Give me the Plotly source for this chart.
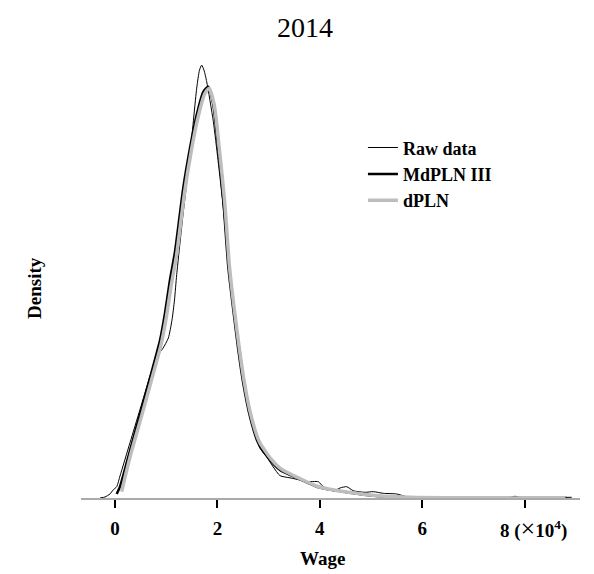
import plotly.graph_objects as go

# ---- data (wage in units of 1e4, density) ----
raw_x = [-0.293, -0.195, -0.098, -0.039, 0.033, 0.098, 0.293, 0.488, 0.684, 0.814, 0.9375, 1.041, 1.113,
         1.162, 1.205, 1.328, 1.465, 1.596, 1.650, 1.693, 1.738, 1.791, 1.920, 2.012, 2.115, 2.246, 2.377,
         2.506, 2.637, 2.734, 2.832, 2.963, 3.092, 3.223, 3.418, 3.613, 3.744, 3.971, 4.068, 4.264, 4.395,
         4.525, 4.654, 4.883, 5.045, 5.240, 5.502, 5.697, 5.957, 6.738, 7.715, 7.813, 7.910, 8.920]
raw_y = [0.0, 0.0014, 0.0056, 0.011, 0.0157, 0.0306, 0.0768, 0.1228, 0.169, 0.196, 0.208, 0.222, 0.247,
         0.275, 0.310, 0.393, 0.476, 0.569, 0.594, 0.601, 0.594, 0.578, 0.523, 0.469, 0.403, 0.303, 0.240,
         0.175, 0.119, 0.090, 0.069, 0.057, 0.043, 0.031, 0.028, 0.025, 0.0226, 0.0226, 0.0157, 0.0097, 0.0139,
         0.0157, 0.0101, 0.0079, 0.0088, 0.0065, 0.0056, 0.0018, 0.001, 0.0007, 0.0007, 0.0024, 0.0007, 0.001]

mdpln_x = [0.033, 0.098, 0.293, 0.488, 0.684, 0.879, 0.977, 1.074, 1.172, 1.334, 1.465, 1.596, 1.725, 1.822,
           1.920, 2.018, 2.115, 2.213, 2.311, 2.408, 2.506, 2.637, 2.799, 3.027, 3.223, 3.613, 3.939, 4.264,
           4.590, 4.916, 5.371, 5.893, 6.934, 8.822]
mdpln_y = [0.0056, 0.0157, 0.066, 0.116, 0.167, 0.219, 0.257, 0.303, 0.342, 0.431, 0.486, 0.532, 0.564, 0.571,
           0.546, 0.483, 0.414, 0.321, 0.261, 0.206, 0.159, 0.113, 0.076, 0.053, 0.039, 0.026, 0.0157, 0.011,
           0.0074, 0.0042, 0.0018, 0.0004, 0.0001, 0.0]

dpln_x = [0.13, 0.20, 0.32, 0.52, 0.71, 0.90, 1.00, 1.10, 1.20, 1.36, 1.49, 1.62, 1.75, 1.84, 1.94, 2.04,
          2.14, 2.235, 2.33, 2.43, 2.525, 2.655, 2.82, 3.05, 3.25, 3.64, 3.96, 4.28, 4.60, 4.93, 5.38, 5.90,
          6.90, 8.80]
dpln_y = [0.0088, 0.030, 0.064, 0.114, 0.163, 0.213, 0.250, 0.296, 0.336, 0.425, 0.482, 0.528, 0.561, 0.569,
          0.545, 0.483, 0.413, 0.322, 0.262, 0.207, 0.161, 0.115, 0.078, 0.054, 0.040, 0.026, 0.016, 0.011,
          0.0076, 0.0045, 0.0020, 0.0006, 0.0002, 0.0]

tick_vals = [0, 2, 4, 6, 8]
tick_text = ["0", "2", "4", "6", ""]
last_tick_label = "8 (<span style='font-size:26px;font-weight:normal'>×</span>10<sup>4</sup>)"

SERIF = "Liberation Serif, Times New Roman, serif"
FS = 19

fig = go.Figure()
fig.add_trace(go.Scatter(x=raw_x, y=raw_y, mode="lines", name="Raw data",
                         line=dict(color="black", width=1, shape="spline", smoothing=0.6)))
fig.add_trace(go.Scatter(x=mdpln_x, y=mdpln_y, mode="lines", name="MdPLN III",
                         line=dict(color="black", width=2.5, shape="spline", smoothing=0.6)))
fig.add_trace(go.Scatter(x=dpln_x, y=dpln_y, mode="lines", name="dPLN",
                         line=dict(color="#bdbdbd", width=3.5, shape="spline", smoothing=0.6)))

fig.update_layout(
    width=594, height=574,
    margin=dict(l=81, r=14, t=50, b=76),
    plot_bgcolor="white", paper_bgcolor="white",
    showlegend=True,
    legend=dict(x=0.565, y=0.823, xanchor="left", yanchor="top",
                font=dict(family=SERIF, size=18, color="black", weight="bold"),
                bgcolor="rgba(0,0,0,0)"),
    xaxis=dict(range=[-0.664, 9.082], showgrid=False, zeroline=False,
               showline=True, linecolor="#aaaaaa", linewidth=1.5,
               tickmode="array", tickvals=tick_vals, ticktext=tick_text,
               ticks="outside", ticklen=8, tickwidth=2, tickcolor="black",
               ticklabelstandoff=4,
               tickfont=dict(family=SERIF, size=FS, color="black", weight="bold")),
    yaxis=dict(range=[0, 0.622], showgrid=False, zeroline=False, showline=False,
               showticklabels=False, ticks=""),
    annotations=[
        dict(text="2014", x=0.449, y=1.051, xref="paper", yref="paper", showarrow=False,
             xanchor="center", yanchor="middle",
             font=dict(family=SERIF, size=28, color="black")),
        dict(text="Wage", x=0.483, y=-0.134, xref="paper", yref="paper", showarrow=False,
             xanchor="center", yanchor="middle",
             font=dict(family=SERIF, size=FS, color="black", weight="bold")),
        dict(text="Density", x=-0.092, y=0.469, xref="paper", yref="paper", showarrow=False,
             xanchor="center", yanchor="middle",
             textangle=-90, font=dict(family=SERIF, size=FS, color="black", weight="bold")),
        dict(text=last_tick_label, x=7.48, y=-0.068, xref="x", yref="paper", showarrow=False,
             xanchor="left", yanchor="middle",
             font=dict(family=SERIF, size=FS, color="black", weight="bold")),
    ],
)

fig.write_html("out.html", post_script="document.body.style.margin='0';",
               config={"displayModeBar": False})
